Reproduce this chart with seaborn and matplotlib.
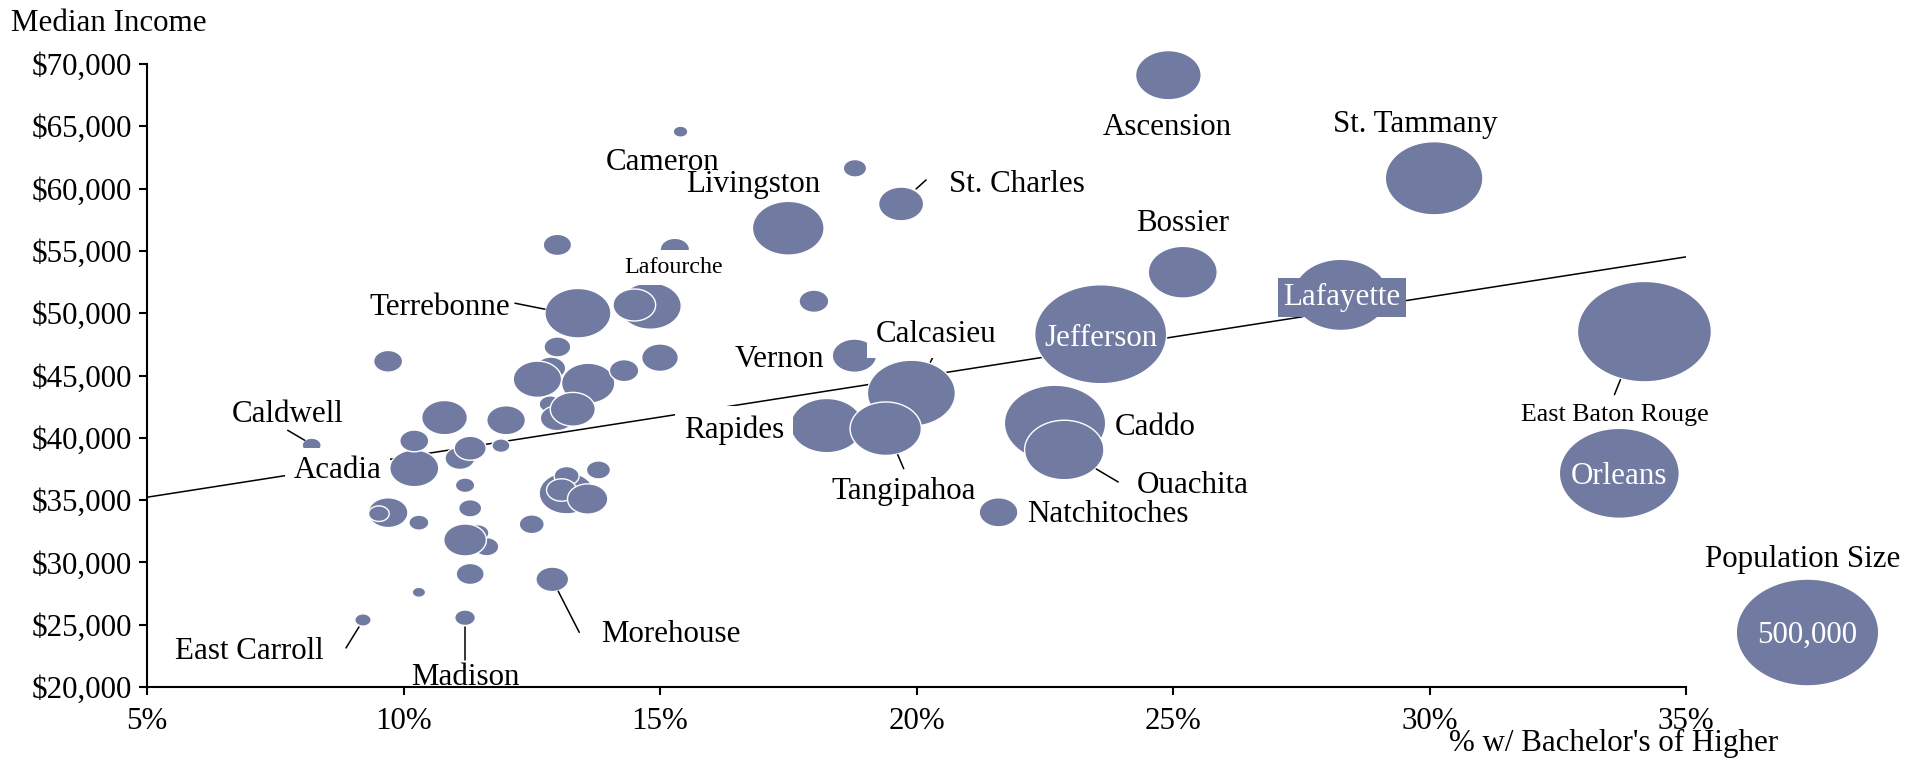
import numpy as np
import pandas as pd
import matplotlib
matplotlib.use("Agg")
import matplotlib.pyplot as plt
from matplotlib.path import Path
from matplotlib.ticker import FuncFormatter
import seaborn as sns

# one entry per parish, listed in drawing order (later ones sit on top)
parish = [None, None, None, None, None, None, None, None, None, "Lafourche",
          None, "Terrebonne", None, None, None, None, None, "Acadia", None, None,
          "Caldwell", None, None, None, None, None, None, None, None, None,
          None, None, None, None, "East Carroll", "Madison", "Morehouse", None, None, None,
          None, None, "Cameron", None, "St. Charles", "Livingston", None, "Vernon", "Calcasieu", "Rapides",
          "Tangipahoa", "Natchitoches", "Caddo", "Ouachita", "Jefferson", "Bossier", "Lafayette", "St. Tammany",
          "Ascension", "East Baton Rouge", None, "Orleans"]
bachelor_pct = [12.87, 12.61, 13.60, 12.86, 12.99, 13.30, 13.00, 13.00, 15.29, 14.81,
                14.50, 13.40, 9.70, 15.00, 14.30, 10.80, 12.00, 10.21, 10.21, 11.90,
                8.21, 11.10, 11.30, 11.20, 11.30, 9.70, 9.52, 10.30, 11.62, 11.45,
                11.20, 12.50, 11.30, 10.30, 9.21, 11.20, 12.90, 13.18, 13.18, 13.08,
                13.59, 13.80, 15.40, 18.80, 19.70, 17.50, 18.00, 18.79, 19.90, 18.25,
                19.40, 21.60, 22.70, 22.88, 23.59, 25.19, 28.27, 30.09,
                24.91, 34.19, 34.26, 33.70]
median_income = [45580, 44700, 44380, 42700, 41570, 42290, 47290, 55480, 55130, 50580,
                 50660, 50000, 46140, 46430, 45390, 41620, 41410, 37550, 39750, 39370,
                 39400, 38360, 39160, 36190, 34340, 33990, 33910, 33190, 31260, 32360,
                 31800, 33060, 29070, 27600, 25380, 25560, 28640, 35550, 36940, 35810,
                 35090, 37420, 64570, 61630, 58770, 56820, 50960, 46590, 43580, 40980,
                 40730, 34020, 41170, 39020, 48310, 53290, 51470, 60830,
                 69100, 48520, 36535, 37150]
population = [22000, 57500, 70000, 12000, 27000, 49900, 17500, 19700, 21100, 94700,
              44800, 107300, 20700, 33100, 21200, 51400, 36800, 59100, 20700, 8000,
              8900, 22000, 25200, 9200, 13000, 38800, 10500, 9850, 14600, 12000,
              44800, 15400, 19300, 4400, 6600, 10500, 26300, 74500, 15400, 22000,
              40000, 14200, 5300, 13400, 49900, 126500, 21700, 48400, 190700, 129000,
              125200, 36900, 252900, 155000, 429000, 117200, 222000, 234500,
              106000, 442000, 82800, 354500]

trend_pct = [5, 35]
trend_income = [35230, 54520]

x_ticks = [5, 10, 15, 20, 25, 30, 35]
y_ticks = [20000, 25000, 30000, 35000, 40000, 45000, 50000, 55000, 60000, 65000, 70000]
legend_population = 500000

BUBBLE = "#717ba1"
DPI = 100
PX = 0.72  # points per pixel at 100 dpi

# label layout: offset (px) of text centre/baseline from the bubble centre
labels = {
    "Cameron": (-18, 38, 31, "plain"),
    "Livingston": (-35, -36, 31, "plain"),
    "St. Charles": (116, -12, 31, "plain"),
    "Ascension": (-1, 60, 31, "plain"),
    "St. Tammany": (-19, -46, 31, "plain"),
    "Bossier": (0, -41, 31, "plain"),
    "Lafourche": (23, -33, 24, "boxed"),
    "Terrebonne": (-138, 2, 31, "plain"),
    "Vernon": (-75, 11, 31, "plain"),
    "Calcasieu": (25, -51, 31, "boxed"),
    "Rapides": (-93, 12, 31, "boxed"),
    "Acadia": (-77, 10, 31, "boxed"),
    "Caldwell": (-24, -23, 31, "plain"),
    "East Carroll": (-114, 39, 31, "plain"),
    "Madison": (0, 67, 31, "plain"),
    "Morehouse": (119, 63, 31, "plain"),
    "Tangipahoa": (18, 70, 31, "plain"),
    "Natchitoches": (109, 10, 31, "plain"),
    "Caddo": (100, 12, 31, "plain"),
    "Ouachita": (129, 43, 31, "plain"),
    "Jefferson": (0, 12, 31, "inside"),
    "Lafayette": (1, 10, 31, "tag"),
    "East Baton Rouge": (-30, 89, 26, "plain"),
    "Orleans": (0, 11, 31, "inside"),
}
leaders = {
    "St. Charles": (15, -15, 25, -24),
    "Terrebonne": (-63, -10, -33, -4),
    "Calcasieu": (25, -43, 19, -31),
    "Caldwell": (-24, -15, -7, -5),
    "East Carroll": (-17, 28, -4, 7),
    "Madison": (0, 9, 0, 42),
    "Morehouse": (6, 12, 27, 53),
    "Tangipahoa": (12, 26, 18, 40),
    "Ouachita": (32, 19, 54, 32),
    "East Baton Rouge": (-24, 48, -30, 63),
}

df = pd.DataFrame({"parish": parish, "bachelor": bachelor_pct,
                   "income": median_income, "population": population})

sns.set_style("ticks")
plt.rcParams["font.family"] = ["Liberation Serif", "DejaVu Serif"]
plt.rcParams["text.color"] = "black"

W, H = 1921, 758
fig = plt.figure(figsize=(W / DPI, H / DPI), dpi=DPI)
ax = fig.add_axes([147 / W, 1 - 687 / H, (1686 - 147) / W, (687 - 64) / H])

# ellipse-shaped bubble marker (bubbles are wider than tall)
t = np.linspace(0, 2 * np.pi, 90)
ellipse = Path(np.column_stack([np.cos(t), 0.75 * np.sin(t)]), closed=True)
s_ref = (142.5 * PX) ** 2  # marker area of the 500,000 reference bubble

sns.lineplot(x=trend_pct, y=trend_income, color="black", lw=1.1, ax=ax, zorder=1)
sns.scatterplot(data=df, x="bachelor", y="income", size="population",
                size_norm=(0, legend_population), sizes=(0, s_ref),
                marker=ellipse, color=BUBBLE, edgecolor="white", linewidth=1.0,
                alpha=1, legend=False, clip_on=False, zorder=2, ax=ax)

ax.set_xlim(5, 35)
ax.set_ylim(20000, 70000)
ax.set_xticks(x_ticks)
ax.set_yticks(y_ticks)
ax.xaxis.set_major_formatter(FuncFormatter(lambda v, p: f"{v:.0f}%"))
ax.yaxis.set_major_formatter(FuncFormatter(lambda v, p: f"${v:,.0f}"))
ax.set_xlabel("")
ax.set_ylabel("")
ax.tick_params(axis="both", labelsize=31 * PX, length=8 * PX, width=1.5,
               color="black", labelcolor="black")
ax.tick_params(axis="x", pad=8.5)
ax.tick_params(axis="y", pad=5.3)
sns.despine(ax=ax)
for side in ["left", "bottom"]:
    ax.spines[side].set_linewidth(1.5)
    ax.spines[side].set_color("black")


def shift(x, y, dx, dy):
    px, py = ax.transData.transform((x, y))
    return ax.transData.inverted().transform((px + dx, py - dy))


for name, x, y in zip(df["parish"], df["bachelor"], df["income"]):
    if name is None:
        continue
    dx, dy, size_px, kind = labels[name]
    tx, ty = shift(x, y, dx, dy)
    kw = dict(ha="center", va="baseline", fontsize=size_px * PX, zorder=5,
              clip_on=False, color="black")
    if kind == "boxed":
        kw["bbox"] = dict(boxstyle="square,pad=0.28", fc="white", ec="none")
    elif kind == "inside":
        kw["color"] = "white"
    elif kind == "tag":
        kw["color"] = "white"
        kw["bbox"] = dict(boxstyle="square,pad=0.17", fc=BUBBLE, ec="none")
    ax.text(tx, ty, name, **kw)
    if name in leaders:
        x1, y1, x2, y2 = leaders[name]
        a = shift(x, y, x1, y1)
        b = shift(x, y, x2, y2)
        ax.plot([a[0], b[0]], [a[1], b[1]], color="black", lw=1.1, zorder=4,
                clip_on=False)

# population size key
fig.text(1803 / W, 1 - 567 / H, "Population Size", ha="center", va="baseline",
         fontsize=31 * PX)
ax.scatter([1807 / W], [1 - 632 / H], s=s_ref, marker=ellipse, color=BUBBLE,
           edgecolor="white", linewidth=1.0, transform=fig.transFigure,
           clip_on=False, zorder=2)
fig.text(1807 / W, 1 - 643 / H, f"{legend_population:,}", ha="center",
         va="baseline", color="white", fontsize=31 * PX)

fig.text(11 / W, 1 - 31 / H, "Median Income", ha="left", va="baseline",
         fontsize=31 * PX)
fig.text(1778 / W, 1 - 751 / H, "% w/ Bachelor's of Higher", ha="right",
         va="baseline", fontsize=31 * PX)

fig.savefig("out.png", dpi=DPI, facecolor="white")
